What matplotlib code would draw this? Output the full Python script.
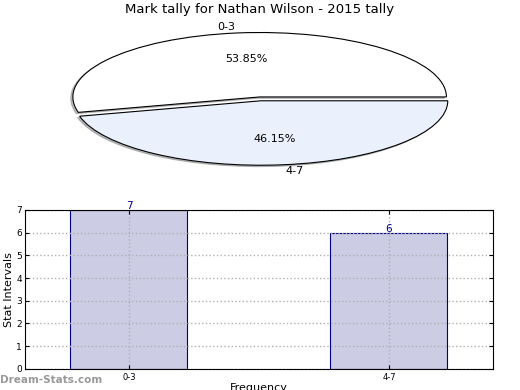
import matplotlib
matplotlib.use('Agg')
import matplotlib.pyplot as plt

# pie data
pie_labels = ['0-3', '4-7']
pie_values = [7, 6]
pie_colors = ['#ffffff', '#ebf1fc']

# bar data
bar_labels = ['0-3', '4-7']
bar_values = [7, 6]

fig = plt.figure(figsize=(5.2, 3.9), dpi=100)
fig.text(0.5, 0.975, 'Mark tally for Nathan Wilson - 2015 tally', ha='center', va='center', fontsize=9.5)

# pie (squashed, not circular)
ax1 = fig.add_axes([0.048, 0.535, 0.898, 0.423])
wedges, texts, autotexts = ax1.pie(pie_values, labels=pie_labels, colors=pie_colors,
                                   explode=[0.03, 0.03], autopct='%1.2f%%',
                                   shadow={'ox': -0.008, 'oy': -0.015, 'shade': 0.5},
                                   startangle=0, textprops={'fontsize': 8},
                                   wedgeprops={'edgecolor': 'black', 'linewidth': 0.8})
ax1.set_aspect('auto')
ax1.set_xlim(-1.26, 1.24)
ax1.set_ylim(-1.28, 1.28)

# bars
ax2 = fig.add_axes([0.048, 0.054, 0.9, 0.408])
xs = range(len(bar_values))
ax2.bar(xs, bar_values, width=0.45, color='#ccccE5', edgecolor='#000080', linewidth=0.8, zorder=2)
for x, v in zip(xs, bar_values):
    ax2.text(x, v + 0.15, str(v), ha='center', va='center', color='#000080', fontsize=7.5)
ax2.set_xlim(-0.4, 1.4)
ax2.set_ylim(0, 7)
ax2.set_xticks(list(xs))
ax2.set_xticklabels(bar_labels, fontsize=6)
ax2.set_yticks(range(8))
ax2.tick_params(axis='y', labelsize=6.5, direction='in', right=True, length=3, pad=2)
ax2.tick_params(axis='x', direction='in', top=True, length=3, pad=3)
ax2.grid(True, linestyle=':', color='#b0b0b0', linewidth=1, zorder=3)
ax2.set_axisbelow(False)
for sp in ax2.spines.values():
    sp.set_zorder(4)
ax2.set_ylabel('Stat Intervals', fontsize=8, labelpad=2)
ax2.set_xlabel('Frequency', fontsize=8, labelpad=1)

fig.text(0.0, 0.025, 'Dream-Stats.com', color='#999999', fontsize=7.5, fontweight='bold', ha='left', va='center')

fig.savefig('out.png', dpi=100)
